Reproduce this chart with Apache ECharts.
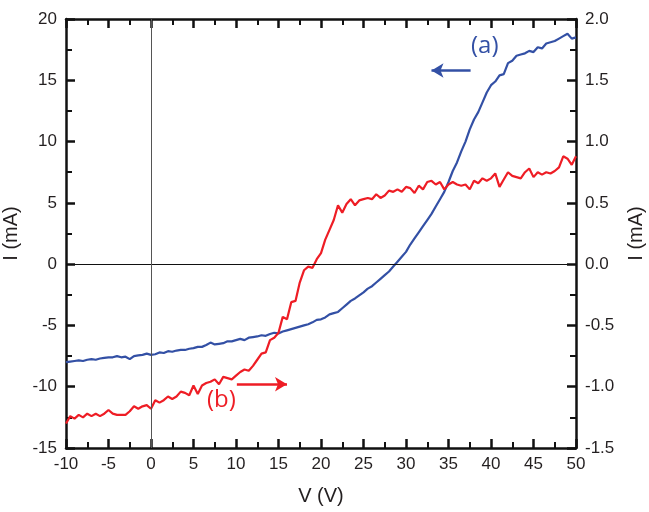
<!DOCTYPE html>
<html>
<head>
<meta charset="utf-8">
<script src="https://cdn.jsdelivr.net/npm/echarts@6/dist/echarts.min.js"></script>
<style>html,body{margin:0;padding:0;background:#fff}#c{width:649px;height:512px}</style>
</head>
<body>
<div id="c"></div>
<script>
const voltage = [-10,-9.5,-9,-8.5,-8,-7.5,-7,-6.5,-6,-5.5,-5,-4.5,-4,-3.5,-3,-2.5,-2,-1.5,-1,-0.5,
0,0.5,1,1.5,2,2.5,3,3.5,4,4.5,5,5.5,6,6.5,7,7.5,8,8.5,9,9.5,
10,10.5,11,11.5,12,12.5,13,13.5,14,14.5,15,15.5,16,16.5,17,17.5,18,18.5,19,19.5,
20,20.5,21,21.5,22,22.5,23,23.5,24,24.5,25,25.5,26,26.5,27,27.5,28,28.5,29,29.5,
30,30.5,31,31.5,32,32.5,33,33.5,34,34.5,35,35.5,36,36.5,37,37.5,38,38.5,39,39.5,
40,40.5,41,41.5,42,42.5,43,43.5,44,44.5,45,45.5,46,46.5,47,47.5,48,48.5,49,49.5,50];

// curve (a), left axis, mA
const currentA = [-8.0,-7.95,-7.9,-7.85,-7.9,-7.8,-7.75,-7.8,-7.7,-7.65,-7.6,-7.6,-7.5,-7.6,-7.55,-7.75,-7.5,-7.45,-7.4,-7.3,
-7.4,-7.35,-7.2,-7.25,-7.1,-7.15,-7.05,-7.0,-7.0,-6.9,-6.85,-6.75,-6.75,-6.6,-6.4,-6.55,-6.5,-6.45,-6.3,-6.3,
-6.2,-6.1,-6.2,-6.0,-5.95,-5.9,-5.8,-5.85,-5.7,-5.6,-5.65,-5.5,-5.4,-5.3,-5.2,-5.1,-5.0,-4.9,-4.75,-4.55,
-4.5,-4.35,-4.1,-4.0,-3.9,-3.6,-3.3,-3.0,-2.8,-2.55,-2.3,-2.0,-1.8,-1.5,-1.2,-0.9,-0.6,-0.2,0.2,0.6,
1.0,1.6,2.1,2.6,3.1,3.6,4.1,4.7,5.3,5.9,6.7,7.6,8.3,9.2,10.0,11.0,11.8,12.4,13.2,14.0,
14.6,14.9,15.4,15.5,16.4,16.6,17.0,17.1,17.2,17.4,17.3,17.7,17.6,18.0,18.1,18.2,18.4,18.6,18.8,18.4,18.5];

// curve (b), right axis, mA
const currentB = [-1.30,-1.24,-1.26,-1.23,-1.25,-1.22,-1.24,-1.22,-1.24,-1.22,-1.19,-1.22,-1.23,-1.23,-1.23,-1.20,-1.16,-1.18,-1.16,-1.15,
-1.18,-1.11,-1.13,-1.11,-1.08,-1.10,-1.08,-1.04,-1.05,-1.07,-0.99,-1.06,-0.99,-0.97,-0.96,-0.94,-0.98,-0.92,-0.93,-0.94,
-0.91,-0.88,-0.86,-0.87,-0.83,-0.78,-0.73,-0.72,-0.62,-0.60,-0.56,-0.43,-0.45,-0.31,-0.30,-0.15,-0.05,-0.02,-0.03,0.04,
0.09,0.20,0.28,0.36,0.48,0.42,0.49,0.53,0.48,0.52,0.53,0.54,0.53,0.57,0.54,0.56,0.60,0.59,0.61,0.59,
0.63,0.62,0.58,0.64,0.61,0.67,0.68,0.65,0.67,0.61,0.65,0.67,0.65,0.64,0.65,0.61,0.68,0.66,0.70,0.68,
0.70,0.74,0.63,0.69,0.75,0.72,0.71,0.70,0.75,0.78,0.71,0.75,0.73,0.75,0.74,0.76,0.79,0.88,0.86,0.81,0.88];

const xTicks = {min: -10, max: 50, interval: 5};
const yLeftTicks = {min: -15, max: 20, interval: 5};
const yRightTicks = {min: -1.5, max: 2.0, interval: 0.5};

const BLUE = '#3350a5';
const RED = '#ee1d25';
const FONT = 'Liberation Sans';

const chart = echarts.init(document.getElementById('c'));

function axisLine() { return {show: true, onZero: false, lineStyle: {color: '#111', width: 2.5}}; }
function tickIn() { return {show: true, inside: true, length: 9, lineStyle: {color: '#111', width: 2.5}}; }
function minorIn() { return {show: true, splitNumber: 2, length: 6, lineStyle: {color: '#111', width: 2}}; }
function lbl(extra) { return Object.assign({show: true, color: '#231f20', fontFamily: FONT, fontSize: 17}, extra || {}); }
function nameStyle() { return {fontFamily: FONT, fontSize: 20, color: '#231f20'}; }

chart.setOption({
  animation: false,
  backgroundColor: '#fff',
  grid: {left: 66, right: 73, top: 19, bottom: 64, outerBoundsMode: 'none'},
  xAxis: [
    {type: 'value', min: xTicks.min, max: xTicks.max, interval: xTicks.interval, position: 'bottom',
     name: 'V (V)', nameLocation: 'middle', nameGap: 38, nameTextStyle: nameStyle(),
     axisLine: axisLine(), axisTick: tickIn(), minorTick: minorIn(), splitLine: {show: false},
     axisLabel: lbl({margin: 8})},
    {type: 'value', min: xTicks.min, max: xTicks.max, interval: xTicks.interval, position: 'top',
     axisLine: axisLine(), axisTick: tickIn(), minorTick: minorIn(), splitLine: {show: false},
     axisLabel: {show: false}}
  ],
  yAxis: [
    {type: 'value', min: yLeftTicks.min, max: yLeftTicks.max, interval: yLeftTicks.interval, position: 'left',
     name: 'I (mA)', nameLocation: 'middle', nameGap: 40, nameTextStyle: nameStyle(),
     axisLine: axisLine(), axisTick: tickIn(), minorTick: minorIn(), splitLine: {show: false},
     axisLabel: lbl({margin: 9})},
    {type: 'value', min: yRightTicks.min, max: yRightTicks.max, interval: yRightTicks.interval, position: 'right',
     name: 'I (mA)', nameLocation: 'middle', nameGap: 50, nameRotate: 90, nameTextStyle: nameStyle(),
     axisLine: axisLine(), axisTick: tickIn(), minorTick: minorIn(), splitLine: {show: false},
     axisLabel: lbl({margin: 9, formatter: v => v.toFixed(1)})}
  ],
  series: [
    {type: 'line', xAxisIndex: 0, yAxisIndex: 0, data: voltage.map((v, i) => [v, currentA[i]]),
     showSymbol: false, lineStyle: {color: BLUE, width: 2.2}, itemStyle: {color: BLUE}, z: 3,
     markLine: {silent: true, symbol: ['none', 'none'], label: {show: false}, animation: false,
       data: [
         {yAxis: 0, lineStyle: {color: '#111', width: 1.2, type: 'solid'}},
         {xAxis: 0, lineStyle: {color: '#555', width: 1, type: 'solid'}},
         [{coord: [37.6, 15.8], symbol: 'none', lineStyle: {color: BLUE, width: 2.5, type: 'solid'}},
          {coord: [33.0, 15.8], symbol: 'arrow', symbolSize: [11, 12]}]
       ]}},
    {type: 'line', xAxisIndex: 0, yAxisIndex: 1, data: voltage.map((v, i) => [v, currentB[i]]),
     showSymbol: false, lineStyle: {color: RED, width: 2.2}, itemStyle: {color: RED}, z: 4,
     markLine: {silent: true, symbol: ['none', 'none'], label: {show: false}, animation: false,
       data: [
         [{coord: [10.1, -0.98], symbol: 'none', lineStyle: {color: RED, width: 2.5, type: 'solid'}},
          {coord: [16.0, -0.98], symbol: 'arrow', symbolSize: [11, 12]}]
       ]}}
  ],
  graphic: [
    {type: 'text', left: 471, top: 34, style: {text: '(a)', fill: BLUE, font: '24px "Open Sans"'}},
    {type: 'text', left: 207, top: 388, style: {text: '(b)', fill: RED, font: '24px "Open Sans"'}}
  ]
});
</script>
</body>
</html>
